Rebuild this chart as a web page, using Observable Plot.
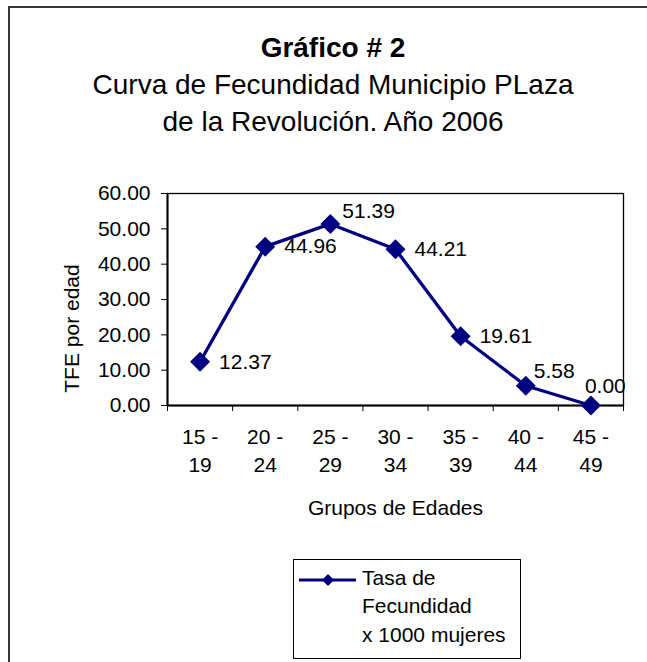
<!DOCTYPE html>
<html>
<head>
<meta charset="utf-8">
<script src="https://cdn.jsdelivr.net/npm/d3@7"></script>
<script src="https://cdn.jsdelivr.net/npm/@observablehq/plot@0.6"></script>
<style>
  body { margin: 0; background: #fff; }
  #page { position: relative; width: 647px; height: 662px; overflow: hidden; background: #fff;
          font-family: "Liberation Sans", Arial, sans-serif; color: #000; }
  #frame { position: absolute; left: 8px; top: 6px; width: 720px; height: 720px;
           border: 2px solid #333; box-sizing: border-box; }
  #title { position: absolute; left: 8px; width: 650px; top: 29px; text-align: center;
           font-size: 28px; line-height: 37px; }
  #title .t1 { font-weight: bold; }
  #chart { position: absolute; left: 0; top: 0; }
  #legend { position: absolute; left: 293px; top: 559px; width: 228px; height: 100px;
            border: 1px solid #000; box-sizing: border-box; background: #fff; }
  #legend .ltext { position: absolute; left: 68px; top: 3.5px; font-size: 21px; line-height: 28.5px; white-space: nowrap; }
  #legend svg { position: absolute; left: 5px; top: 10px; }
</style>
</head>
<body>
<div id="page">
  <div id="frame"></div>
  <div id="title">
    <div class="t1">Gráfico # 2</div>
    <div>Curva de Fecundidad Municipio PLaza</div>
    <div>de la Revolución. Año 2006</div>
  </div>
  <div id="chart"></div>
  <div id="legend">
    <svg id="swatch" width="60" height="20"></svg>
    <div class="ltext">Tasa de<br>Fecundidad<br>x 1000 mujeres</div>
  </div>
</div>
<script>
// ---- data ----
const ageGroups = ["15 - 19", "20 - 24", "25 - 29", "30 - 34", "35 - 39", "40 - 44", "45 - 49"];
const tfe = [12.37, 44.96, 51.39, 44.21, 19.61, 5.58, 0.00];
const yTicks = [0, 10, 20, 30, 40, 50, 60];
const xTitle = "Grupos de Edades";
const yTitle = "TFE por edad";
const seriesColor = "#000080";

const data = ageGroups.map((g, i) => ({group: g, i, x: i + 0.5, v: tfe[i]}));
const FONT = "'Liberation Sans', Arial, sans-serif";

const chart = Plot.plot({
  width: 647,
  height: 662,
  marginLeft: 167,
  marginRight: 24,
  marginTop: 193,
  marginBottom: 257,
  style: {fontFamily: FONT, fontSize: "21px", color: "#000", background: "transparent", overflow: "visible"},
  x: {domain: [0, ageGroups.length]},
  y: {domain: [0, 60]},
  marks: [
    Plot.frame({stroke: "#000", strokeWidth: 1.3}),
    Plot.axisY({ticks: yTicks, tickFormat: d => d.toFixed(2), tickSize: 6, tickPadding: 11,
                fontSize: 21, label: null, stroke: "#000"}),
    Plot.axisX({ticks: d3.range(ageGroups.length + 1), tickSize: 6, tickFormat: () => "",
                label: null, stroke: "#000"}),
    Plot.ruleX([0], {stroke: "#000", strokeWidth: 2}),
    Plot.ruleY([0], {stroke: "#000", strokeWidth: 2}),
    // category labels (wrapped)
    Plot.text(data, {x: "x", text: d => d.group.replace(" - ", " -\n"), frameAnchor: "bottom",
                     textAnchor: "middle", lineAnchor: "top", dy: 18, lineHeight: 1.36, fontSize: 21, fill: "#000"}),
    // axis titles
    Plot.text([xTitle], {frameAnchor: "bottom", textAnchor: "middle", lineAnchor: "middle",
                         dy: 103, fontSize: 21, fill: "#000"}),
    Plot.text([yTitle], {frameAnchor: "left", textAnchor: "middle", lineAnchor: "middle",
                         rotate: -90, dx: -95, dy: 29, fontSize: 21, fill: "#000"}),
    // series
    Plot.line(data, {x: "x", y: "v", stroke: seriesColor, strokeWidth: 3.3}),
    Plot.dot(data, {x: "x", y: "v", symbol: "diamond2", r: 9, fill: seriesColor, stroke: "none"}),
    // data labels
    Plot.text(data, {filter: d => [0, 1, 3, 4].includes(d.i), x: "x", y: "v", text: d => d.v.toFixed(2),
                     textAnchor: "start", dx: 19, fontSize: 21, fill: "#000"}),
    Plot.text(data, {filter: d => d.i === 2, x: "x", y: "v", text: d => d.v.toFixed(2),
                     textAnchor: "start", dx: 12, dy: -13, fontSize: 21, fill: "#000"}),
    Plot.text(data, {filter: d => d.i === 5, x: "x", y: "v", text: d => d.v.toFixed(2),
                     textAnchor: "start", dx: 8, dy: -15, fontSize: 21, fill: "#000"}),
    Plot.text(data, {filter: d => d.i === 6, x: "x", y: "v", text: d => d.v.toFixed(2),
                     textAnchor: "start", dx: -6, dy: -19, fontSize: 21, fill: "#000"})
  ]
});
document.getElementById("chart").appendChild(chart);

// legend swatch
const sw = d3.select("#swatch");
sw.append("line").attr("x1", 0).attr("x2", 57).attr("y1", 10).attr("y2", 10)
  .attr("stroke", seriesColor).attr("stroke-width", 3);
sw.append("path").attr("d", "M29,4L35,10L29,16L23,10Z").attr("fill", seriesColor);
</script>
</body>
</html>
